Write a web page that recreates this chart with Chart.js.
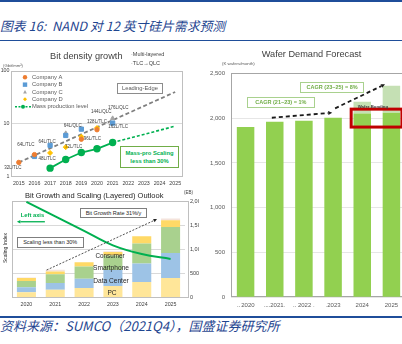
<!DOCTYPE html>
<html>
<head>
<meta charset="UTF-8">
<title>NAND 对 12 英寸硅片需求预测</title>
<script src="https://cdn.jsdelivr.net/npm/chart.js"></script>
<style>
    body { margin: 0; padding: 0; background: #fff; }
    #page { position: relative; width: 402px; height: 344px; overflow: hidden; font-family: "Liberation Sans", Arial, sans-serif; }
    .rule { position: absolute; left: 0; width: 402px; background: #1F4E9A; }
    .box { position: absolute; overflow: hidden; }
    .box canvas { display: block; }
    .t { position: absolute; white-space: nowrap; line-height: 1; }
    .cap { font-family: "Noto Sans CJK SC", sans-serif; font-style: italic; color: #1F4690; }
    .frame { position: absolute; box-sizing: border-box; background: #fff; text-align: center; white-space: nowrap; }
</style>
</head>
<body>
<div id="page">
    <div class="rule" style="top:0;height:1.5px"></div>
    <div class="t cap" style="left:0;top:19.6px;font-size:12.8px">图表 16:&nbsp; NAND 对 12 英寸硅片需求预测</div>
    <div class="rule" style="top:39.5px;height:1.5px"></div>

    <div class="box" style="left:0;top:45px;width:197px;height:150px"><canvas id="density" width="197" height="150"></canvas></div>
    <div class="box" style="left:0;top:188px;width:199px;height:124px"><canvas id="outlook" width="212" height="124"></canvas></div>
    <div class="box" style="left:197px;top:45px;width:205px;height:270px"><canvas id="wafer" width="212" height="270"></canvas></div>

    <!-- top-left texts -->
    <div class="t" style="left:50px;top:51.5px;font-size:9.2px;color:#404040">Bit density growth</div>
    <div class="t" style="left:131px;top:52px;font-size:5.5px;color:#404040">·Multi-layered</div>
    <div class="t" style="left:131px;top:60.8px;font-size:5.5px;color:#404040">·TLC→QLC</div>
    <div class="t" style="left:3px;top:64.4px;font-size:4.2px;color:#595959">(Gbit/mm²)</div>
    <div class="frame" style="left:117px;top:83px;width:46px;height:11px;border:1px solid #8C8C8C;font-size:5.8px;line-height:9px;color:#595959">Leading-Edge</div>
    <div class="frame" style="left:120px;top:146px;width:59px;height:22px;border:1px solid #70AD47;font-size:5.8px;line-height:7.5px;padding-top:3px;color:#00B050;font-weight:bold">Mass-pro Scaling<br>less than 30%</div>

    <!-- bottom-left texts -->
    <div class="t" style="left:25px;top:192.2px;font-size:7.5px;color:#262626">Bit Growth and Scaling (Layered) Outlook</div>
    <div class="t" style="left:184px;top:190.8px;font-size:4.5px;color:#404040">(EB)</div>
    <div class="t" style="left:5px;top:248px;font-size:5px;color:#262626;transform:translate(-50%,-50%) rotate(-90deg)">Scaling Index</div>
    <div class="t" style="left:20.7px;top:213px;font-size:5.8px;color:#00B050;font-weight:bold">Left axis</div>
    <div class="frame" style="left:80px;top:208px;width:67px;height:10px;border:1px solid #7F7F7F;font-size:5.5px;line-height:8px;color:#262626">Bit Growth Rate 31%/y</div>
    <div class="frame" style="left:16.7px;top:237px;width:67px;height:11px;border:1px solid #7F7F7F;font-size:5.5px;line-height:9px;color:#262626">Scaling less than 30%</div>
    <div class="t" style="left:110px;top:256px;font-size:6.3px;color:#262626;transform:translate(-50%,-50%)">Consumer</div>
    <div class="t" style="left:111px;top:268px;font-size:6.6px;color:#262626;transform:translate(-50%,-50%)">Smartphone</div>
    <div class="t" style="left:111px;top:281px;font-size:6.6px;color:#262626;transform:translate(-50%,-50%)">Data Center</div>
    <div class="t" style="left:112px;top:293px;font-size:6.6px;color:#262626;transform:translate(-50%,-50%)">PC</div>

    <!-- right texts -->
    <div class="t" style="left:261.7px;top:50.4px;font-size:9.2px;color:#404040">Wafer Demand Forecast</div>
    <div class="t" style="left:222px;top:62.2px;font-size:4.3px;color:#595959">(K wafers/month)</div>
    <div class="frame" style="left:246.7px;top:97.3px;width:68.3px;height:11px;border:1px solid #A9D18E;font-size:5.5px;line-height:9px;color:#70AD47;font-weight:bold">CAGR (21−23) = 1%</div>
    <div class="frame" style="left:300px;top:81.7px;width:64.3px;height:11.6px;border:1px solid #A9D18E;font-size:5.5px;line-height:9.6px;color:#70AD47;font-weight:bold">CAGR (23−25) = 8%</div>
    <div class="t" style="left:357.7px;top:104.5px;font-size:4.3px;color:#404040;font-weight:bold">Wafer Bonding</div>

    <div class="rule" style="top:315.5px;height:2px"></div>
    <div class="t cap" style="left:0;top:319.3px;font-size:13px">资料来源：SUMCO（2021Q4），国盛证券研究所</div>
</div>

<script>
    // ---- Bit density growth (Gbit/mm2, log scale) ----
    const years = [2015, 2016, 2017, 2018, 2019, 2020, 2021, 2022, 2023, 2024, 2025];
    const densityTicks = [1, 10, 100];
    const companyA = [[2015, 1.85], [2016, 2.6], [2019, 5.1], [2020, 7.7]];
    const companyB = [[2016, 2.4], [2017, 3.9], [2018, 6.0], [2019, 7.9], [2021, 10.3]];
    const companyC = [[2018, 6.6], [2021, 12.7]];
    const companyD = [[2017, 2.8], [2018, 3.6], [2019, 5.7], [2020, 8.3]];
    const massYears = [2017, 2018, 2019, 2020, 2021];
    const massLevel = [1.44, 2.1, 2.85, 3.35, 4.4];
    const massOutlook = [[2021, 4.4], [2025, 9.0]];
    const leadingEdge = [[2015, 1.85], [2025, 40]];
    // year, value, text, dx, dy
    const nodeLabels = [
        [2015, 1.85, '32L/TLC', -6, 5.5],
        [2016, 2.6, '64L/TLC', -8.6, -10],
        [2017, 3.9, '64L/TLC', -3, -4],
        [2017, 2.8, '48L/TLC', -3, 6.3],
        [2018, 6.0, '64L/QLC', 7, -10],
        [2018, 3.6, '72L/TLC', 8, 0],
        [2019, 5.1, '96L/TLC', 11, 0],
        [2020, 8.3, '128L/TLC', 0, -6],
        [2021, 12.7, '144L/QLC', -11.4, -6.7],
        [2021, 12.7, '176L/QLC', 5.5, -11],
        [2021, 10.3, '162L/TLC', 5.5, 4]
    ];

    // ---- Bit growth outlook (EB) ----
    const outlookYears = ['2020', '2021', '2022', '2023', '2024', '2025'];
    const pcEB = [110, 160, 195, 240, 323, 406];
    const dataCenterEB = [100, 138, 193, 330, 381, 518];
    const smartphoneEB = [130, 186, 255, 300, 414, 538];
    const consumerEB = [65, 55, 90, 75, 151, 139];
    const otherEB = [12, 35, 0, 15, 0, 35];
    const scalingIndex = [99, 84, 69, 54, 45, 40];
    const ebTicks = [0, 500, 1000, 1500, 2000];

    // ---- Wafer demand (K wafers/month) ----
    const waferYears = ['‥ 2020', '‥‥2021.', '‥ 2022 .', '.2023', '2024', '2025'];
    const waferBase = [1900, 1960, 1970, 2005, 2050, 2060];
    const waferBonding = [0, 0, 0, 0, 133, 302];
    const waferTicks = [0, 500, 1000, 1500, 2000, 2500];

    Chart.defaults.font.family = '"Liberation Sans", Arial, sans-serif';
    Chart.defaults.color = '#404040';

    const pts = arr => arr.map(p => ({ x: p[0], y: p[1] }));

    function arrow(ctx, x1, y1, x2, y2, color, width, dash, head) {
        const ang = Math.atan2(y2 - y1, x2 - x1);
        const bx = x2 - head * Math.cos(ang), by = y2 - head * Math.sin(ang);
        ctx.save();
        ctx.strokeStyle = color; ctx.fillStyle = color; ctx.lineWidth = width;
        ctx.setLineDash(dash);
        ctx.beginPath(); ctx.moveTo(x1, y1); ctx.lineTo(bx, by); ctx.stroke();
        ctx.setLineDash([]);
        ctx.beginPath();
        ctx.moveTo(x2, y2);
        ctx.lineTo(bx - head * 0.5 * Math.sin(ang), by + head * 0.5 * Math.cos(ang));
        ctx.lineTo(bx + head * 0.5 * Math.sin(ang), by - head * 0.5 * Math.cos(ang));
        ctx.closePath(); ctx.fill();
        ctx.restore();
    }

    function frame(color, extraRight) {
        return {
            id: 'frame',
            beforeDatasetsDraw(chart) {
                const { ctx, chartArea: a } = chart;
                ctx.save();
                ctx.strokeStyle = color; ctx.lineWidth = 1;
                ctx.strokeRect(Math.round(a.left) + 0.5, Math.round(a.top) + 0.5, Math.round(a.width + (extraRight || 0)) - 1, Math.round(a.height) - 1);
                ctx.restore();
            }
        };
    }

    // top-left chart
    const densityOverlay = {
        id: 'densityOverlay',
        afterDatasetsDraw(chart) {
            const { ctx, scales: { x, y }, chartArea: a } = chart;
            ctx.save();
            ctx.font = '4.5px "Liberation Sans"';
            ctx.fillStyle = '#404040';
            ctx.textAlign = 'center';
            ctx.textBaseline = 'middle';
            nodeLabels.forEach(([yr, v, t, dx, dy]) => {
                ctx.fillText(t, x.getPixelForValue(yr) + dx, y.getPixelForValue(v) + dy);
            });

            // legend
            const ds = chart.data.datasets;
            const mx = a.left + 14, tx = a.left + 21;
            ctx.font = '5.8px "Liberation Sans"';
            ctx.textAlign = 'left';
            for (let i = 0; i < 5; i++) {
                const ry = a.top + 6.3 + i * 7.35;
                const d = ds[i];
                ctx.fillStyle = d.backgroundColor;
                ctx.strokeStyle = d.borderColor;
                if (i === 0) { ctx.beginPath(); ctx.arc(mx, ry, 2.2, 0, Math.PI * 2); ctx.fill(); }
                if (i === 1) { ctx.fillRect(mx - 2.2, ry - 2.2, 4.4, 4.4); }
                if (i === 2) { ctx.beginPath(); ctx.moveTo(mx, ry - 2); ctx.lineTo(mx + 1.9, ry + 1.5); ctx.lineTo(mx - 1.9, ry + 1.5); ctx.closePath(); ctx.fill(); }
                if (i === 3) { ctx.beginPath(); ctx.moveTo(mx, ry - 2); ctx.lineTo(mx + 2, ry); ctx.lineTo(mx, ry + 2); ctx.lineTo(mx - 2, ry); ctx.closePath(); ctx.fill(); }
                if (i === 4) {
                    ctx.lineWidth = 1.5; ctx.setLineDash([2, 1.5]);
                    ctx.beginPath(); ctx.moveTo(mx - 10, ry); ctx.lineTo(mx + 6, ry); ctx.stroke();
                    ctx.setLineDash([]);
                    ctx.beginPath(); ctx.arc(mx - 2, ry, 2, 0, Math.PI * 2); ctx.fill();
                }
                ctx.fillStyle = '#595959';
                ctx.fillText(d.label, tx, ry);
            }
            ctx.restore();
        }
    };

    new Chart(document.getElementById('density'), {
        type: 'scatter',
        data: {
            datasets: [
                { label: 'Company A', data: pts(companyA), backgroundColor: '#ED7D31', borderColor: '#ED7D31', pointStyle: 'circle', pointRadius: 2.2 },
                { label: 'Company B', data: pts(companyB), backgroundColor: '#5B9BD5', borderColor: '#5B9BD5', pointStyle: 'rect', pointRadius: 3 },
                { label: 'Company C', data: pts(companyC), backgroundColor: '#A5A5A5', borderColor: '#A5A5A5', pointStyle: 'triangle', pointRadius: 2.4 },
                { label: 'Company D', data: pts(companyD), backgroundColor: '#FFC000', borderColor: '#FFC000', pointStyle: 'rectRot', pointRadius: 2.5 },
                { label: 'Mass production level', data: massYears.map((yr, i) => ({ x: yr, y: massLevel[i] })), showLine: true,
                  backgroundColor: '#00B050', borderColor: '#00B050', borderWidth: 1.8, pointRadius: 2.8 },
                { label: 'outlook', data: pts(massOutlook), showLine: true, borderColor: '#00B050', backgroundColor: '#00B050',
                  borderWidth: 1.6, borderDash: [3, 2], pointRadius: 0 },
                { label: 'Leading-Edge', data: pts(leadingEdge), showLine: true, borderColor: '#7F7F7F', backgroundColor: '#7F7F7F',
                  borderWidth: 1.8, borderDash: [4, 2.5], pointRadius: 0 }
            ]
        },
        options: {
            responsive: false,
            animation: false,
            layout: { padding: { left: 0, top: 26, right: 14, bottom: 6.5 } },
            plugins: { legend: { display: false }, tooltip: { enabled: false } },
            scales: {
                x: {
                    type: 'linear', min: 2014.5, max: 2025.5,
                    afterBuildTicks: s => { s.ticks = years.map(v => ({ value: v })); },
                    afterFit: s => { s.height = 12; },
                    grid: { display: false, drawTicks: false }, border: { display: false },
                    ticks: { font: { size: 5.3 }, color: '#404040', padding: 3.5, maxRotation: 0, autoSkip: false, callback: v => String(v) }
                },
                y: {
                    type: 'logarithmic', min: 1, max: 100,
                    afterBuildTicks: s => { s.ticks = densityTicks.map(v => ({ value: v })); },
                    afterFit: s => { s.width = 11; },
                    grid: { color: c => c.tick && c.tick.value === 10 ? '#D9D9D9' : 'rgba(0,0,0,0)', drawTicks: false },
                    border: { display: false },
                    ticks: { font: { size: 5.3 }, color: '#404040', padding: 1.5, callback: v => String(v) }
                }
            }
        },
        plugins: [frame('#BFBFBF'), densityOverlay]
    });

    // bottom-left chart
    const outlookOverlay = {
        id: 'outlookOverlay',
        afterDatasetsDraw(chart) {
            const { ctx, scales: { x, y, y2 } } = chart;
            arrow(ctx, x.getPixelForValue(0.70), y.getPixelForValue(569), x.getPixelForValue(4.53), y.getPixelForValue(1625), '#262626', 0.8, [2, 1.5], 3.5);
            arrow(ctx, x.getPixelForValue(0.64), y2.getPixelForValue(78.5), x.getPixelForValue(-0.33), y2.getPixelForValue(78.5), '#00B050', 1.3, [], 3.5);
        }
    };

    new Chart(document.getElementById('outlook'), {
        data: {
            labels: outlookYears,
            datasets: [
                { type: 'line', label: 'Scaling Index', data: scalingIndex, yAxisID: 'y2', borderColor: '#00B050', borderWidth: 2,
                  pointRadius: 0, tension: 0.4, fill: false },
                { type: 'bar', label: 'PC', data: pcEB, backgroundColor: '#FFE699' },
                { type: 'bar', label: 'Data Center', data: dataCenterEB, backgroundColor: '#9DC3E6' },
                { type: 'bar', label: 'Smartphone', data: smartphoneEB, backgroundColor: '#A9D18E' },
                { type: 'bar', label: 'Consumer', data: consumerEB, backgroundColor: '#FFD966' },
                { type: 'bar', label: 'Other', data: otherEB, backgroundColor: '#F4E3DC' }
            ]
        },
        options: {
            responsive: false,
            animation: false,
            layout: { padding: { left: 12, top: 13, right: 0, bottom: 2.5 } },
            datasets: { bar: { barPercentage: 0.66, categoryPercentage: 1 } },
            plugins: { legend: { display: false }, tooltip: { enabled: false } },
            scales: {
                x: {
                    stacked: true,
                    afterFit: s => { s.height = 12; },
                    grid: { display: false, drawTicks: false }, border: { display: false },
                    ticks: { font: { size: 5.3 }, color: '#404040', padding: 4, maxRotation: 0, autoSkip: false }
                },
                y: {
                    stacked: true, position: 'right', min: 0, max: 2000,
                    afterBuildTicks: s => { s.ticks = ebTicks.map(v => ({ value: v })); },
                    afterFit: s => { s.width = 27; },
                    grid: { color: '#D9D9D9', drawTicks: false }, border: { display: false },
                    ticks: { font: { size: 5.5 }, color: '#404040', padding: 5, callback: v => v.toLocaleString('en-US') }
                },
                y2: { display: false, position: 'left', min: 0, max: 100 }
            }
        },
        plugins: [frame('#BFBFBF', 3.5), outlookOverlay]
    });

    // right chart
    const waferOverlay = {
        id: 'waferOverlay',
        afterDatasetsDraw(chart) {
            const { ctx, scales: { x, y } } = chart;
            ctx.save();
            ctx.strokeStyle = '#C00000';
            ctx.lineWidth = 3;
            const l = x.getPixelForValue(3.62), r = x.getPixelForValue(5.36);
            const t = y.getPixelForValue(2100), b = y.getPixelForValue(1900);
            ctx.strokeRect(l, t, r - l, b - t);
            ctx.restore();
            arrow(ctx, x.getPixelForValue(0.9), y.getPixelForValue(2004), x.getPixelForValue(2.97), y.getPixelForValue(2060), '#1A1A1A', 1.8, [4, 3], 4);
            arrow(ctx, x.getPixelForValue(3.07), y.getPixelForValue(2109), x.getPixelForValue(4.78), y.getPixelForValue(2377), '#1A1A1A', 1.8, [4, 3], 4);
        }
    };

    new Chart(document.getElementById('wafer'), {
        type: 'bar',
        data: {
            labels: waferYears,
            datasets: [
                { label: 'Wafer demand', data: waferBase, backgroundColor: '#92D050' },
                { label: 'Wafer Bonding', data: waferBonding, backgroundColor: '#C5E0B4' }
            ]
        },
        options: {
            responsive: false,
            animation: false,
            layout: { padding: { left: 0, top: 28.3, right: 3, bottom: 5.7 } },
            datasets: { bar: { barPercentage: 0.6, categoryPercentage: 1 } },
            plugins: { legend: { display: false }, tooltip: { enabled: false } },
            scales: {
                x: {
                    stacked: true,
                    afterFit: s => { s.height = 12; },
                    grid: { display: false, drawTicks: false }, border: { display: false },
                    ticks: { font: { size: 6 }, color: '#595959', padding: 4.7, maxRotation: 0, autoSkip: false }
                },
                y: {
                    stacked: true, min: 0, max: 2500,
                    afterBuildTicks: s => { s.ticks = waferTicks.map(v => ({ value: v })); },
                    afterFit: s => { s.width = 34; },
                    grid: { color: '#E6E6E6', drawTicks: false }, border: { display: false },
                    ticks: { font: { size: 6 }, color: '#595959', padding: 6, callback: v => v.toLocaleString('en-US') }
                }
            }
        },
        plugins: [frame('#A6A6A6'), waferOverlay]
    });
</script>
</body>
</html>
